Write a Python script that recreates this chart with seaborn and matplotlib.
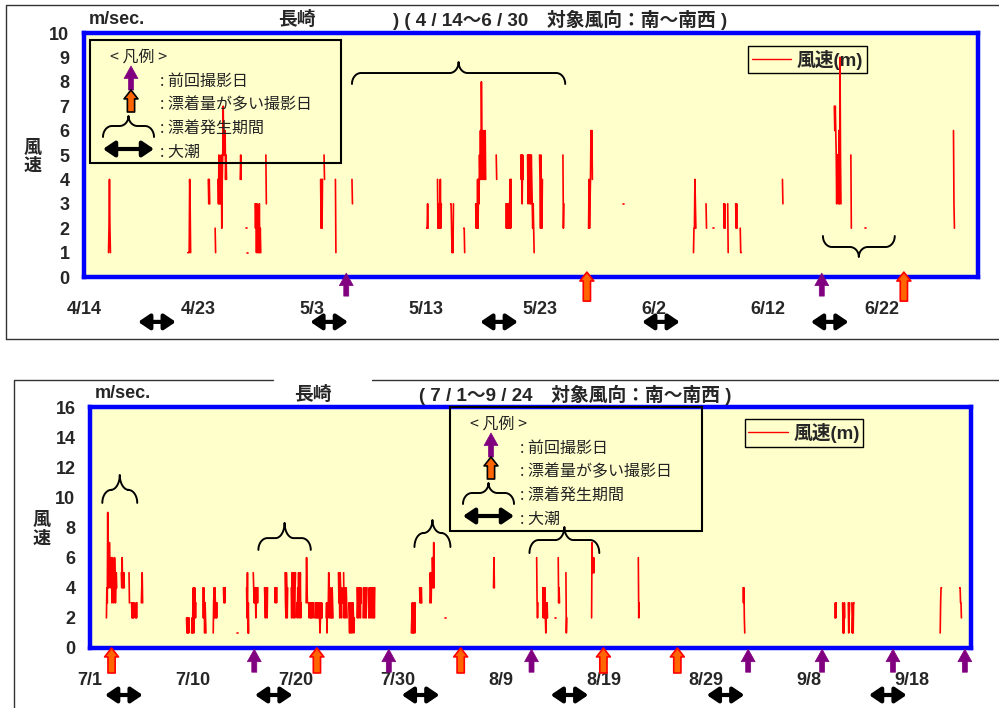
import numpy as np
import pandas as pd
import matplotlib
matplotlib.use('Agg')
import matplotlib.pyplot as plt
import seaborn as sns
from matplotlib.lines import Line2D

# --- data (day offsets from the left edge of each axis) ---
top_dates = ['4/14', '4/23', '5/3', '5/13', '5/23', '6/2', '6/12', '6/22']
bottom_dates = ['7/1', '7/10', '7/20', '7/30', '8/9', '8/19', '8/29', '9/8', '9/18']
top_span = 78.4
bottom_span = 85.8

# hourly wind speed bursts (start day, hourly values) - only S~SW hours recorded
top_wind = [
    (2.15, [1, 2, 4, 2, 1]),
    (9.1, [1, 1, 1, 1, 4, 3, 1]),
    (10.9, [4, 3, 4, 3]),
    (11.5, [2, 1]),
    (11.75, [4, 3, 5, 3, 4, 3, 4, 5, 2, 4, 5, 7, 5, 6, 5, 6, 4, 5, 4]),
    (13.7, [4, 5, 4]),
    (14.25, [2, 2]),
    (14.3, [1, 1]),
    (15.0, [3, 2, 3, 1, 3, 2, 1, 2, 1, 3, 1, 2, 1]),
    (15.95, [5, 3]),
    (20.25, [1, 1]),
    (20.75, [4, 2, 4, 2, 4]),
    (21.05, [5, 4]),
    (22.05, [4, 1]),
    (23.5, [4, 3]),
    (30.05, [2, 2, 3, 2]),
    (31.0, [4, 2, 3, 2, 3, 2, 4, 2, 3]),
    (32.15, [3, 3, 2, 1, 2, 1, 3]),
    (33.3, [2, 2, 1]),
    (34.35, [3, 2, 3, 2, 4, 2, 4, 3, 5, 4, 6, 4, 8, 6, 4, 6, 5, 4, 6, 4, 6, 4]),
    (36.15, [5, 4]),
    (37.0, [3, 2, 3, 2, 3, 2, 3, 2, 3, 4, 2, 4]),
    (38.3, [5, 4, 5, 3, 5, 4]),
    (38.9, [5, 3, 5, 4, 5, 3, 5, 4]),
    (39.1, [5, 4, 3, 5, 4, 3, 2, 3, 2, 1]),
    (39.95, [5, 4, 2, 5, 3, 2, 4]),
    (42.0, [5, 2, 3]),
    (44.1, [1, 1]),
    (44.25, [2, 4, 2, 3, 4, 6, 5, 6, 4]),
    (47.3, [3, 3]),
    (53.45, [1, 2, 2, 4, 3, 2]),
    (54.55, [3, 2]),
    (55.2, [2, 2]),
    (55.5, [2, 2]),
    (56.1, [3, 2, 3, 2]),
    (56.45, [3, 1]),
    (57.15, [3, 2, 3, 2]),
    (57.55, [2, 1, 1]),
    (61.25, [4, 3]),
    (65.8, [7, 6, 7, 6, 5, 3, 5, 4, 5, 3, 6, 3, 9, 5, 3]),
    (67.25, [5, 2]),
    (67.95, [2, 2]),
    (68.5, [2, 2]),
    (76.25, [6, 3, 2]),
]

bottom_wind = [
    (0.95, [1, 1]),
    (1.6, [2, 4, 3, 9, 4, 6, 4, 7, 5, 6, 4, 6, 5, 3, 6, 4, 5, 3, 4, 6, 5, 3, 4, 5, 4]),
    (3.05, [5, 4, 6, 4, 5, 4, 5, 4]),
    (3.8, [5, 3, 3]),
    (4.05, [3, 2, 3, 2, 3, 2, 3]),
    (4.45, [2, 3, 2, 3]),
    (5.0, [3, 4, 5, 3]),
    (9.4, [2, 1, 2, 1, 2, 1, 2]),
    (9.9, [1, 2, 1, 3, 4, 1, 2, 4, 3, 2, 3]),
    (11.0, [4, 2, 4, 3, 1, 3, 2, 1]),
    (12.0, [1, 3, 4, 2, 4, 3, 2, 3, 2, 3]),
    (13.0, [4, 3, 4, 3, 4]),
    (13.5, [4, 4]),
    (14.3, [2, 2]),
    (14.35, [1, 1]),
    (15.25, [4, 2, 5, 1, 3, 1]),
    (15.9, [5, 4, 3, 4, 3, 4, 2, 4, 3, 4, 3, 4]),
    (17.0, [4, 3, 2, 4, 3, 4, 2, 4]),
    (18.0, [4, 3, 4, 4, 3, 4]),
    (19.0, [5, 3, 2, 5, 4, 2, 4]),
    (19.6, [4, 2, 5, 3, 4, 2, 5, 3, 2, 4, 5]),
    (20.15, [3, 2, 4, 3, 5, 2, 4, 3, 5, 2, 3]),
    (21.05, [3, 6, 4, 3]),
    (21.3, [3, 2, 3, 3, 2, 3, 2, 2, 3, 3, 2, 3]),
    (21.9, [2, 3, 3, 2, 2, 3, 2, 3, 3, 2, 3, 2, 1, 2, 3, 2, 3, 2]),
    (23.0, [2, 3, 1, 3, 2, 3, 5, 3, 2, 4, 3, 2, 3, 2, 4, 3, 2]),
    (24.2, [5, 3, 4, 2, 5, 4, 3, 2, 4, 3]),
    (24.7, [5, 2, 3, 4, 2, 3, 4, 3, 2]),
    (25.2, [3, 2, 1, 3, 2, 1, 2, 3, 1, 2, 3, 2, 1, 2]),
    (26.0, [4, 2, 3, 4, 2, 3, 4, 3, 2, 4, 3]),
    (26.6, [2, 4, 3, 4, 2, 3, 4, 2, 3, 4]),
    (27.15, [2, 4, 3, 2, 4, 3, 4, 2, 3, 4, 2, 3, 4, 2, 4]),
    (31.3, [1, 2, 3, 1, 2, 1, 3, 2, 1, 3]),
    (32.1, [4, 3, 4, 3, 4, 3]),
    (33.1, [3, 5, 4, 3, 5, 4, 6, 5, 4, 7, 4]),
    (34.6, [2, 2]),
    (39.3, [4, 6, 4]),
    (43.5, [6, 3, 2, 3]),
    (44.1, [4, 2, 4, 3, 2, 4, 2, 1, 3, 2, 3, 2]),
    (45.3, [2, 2]),
    (45.6, [6, 3, 4, 3]),
    (46.35, [5, 1, 2]),
    (46.7, [2, 2]),
    (48.85, [2, 7, 5, 6, 5, 6, 5]),
    (53.4, [6, 2, 3]),
    (63.1, [2, 2]),
    (63.6, [4, 3, 4, 2, 1]),
    (72.55, [2, 3, 2, 3]),
    (73.3, [3, 1, 2, 1, 3, 2]),
    (73.85, [3, 1, 2, 3]),
    (74.2, [3, 1, 2, 1, 3, 3]),
    (82.8, [1, 3, 4, 4]),
    (84.7, [4, 4, 3, 3, 2]),
]

# event days
top_prev_shot = [23.0, 64.7]            # purple arrows
top_heavy_shot = [44.1, 71.9]           # orange arrows
top_spring_tide = [6.4, 21.5, 36.4, 50.6, 65.4]
top_periods = [(23.5, 42.2), (64.8, 71.1)]

bottom_prev_shot = [16.0, 29.1, 43.0, 64.1, 71.3, 78.2, 85.2]
bottom_heavy_shot = [2.1, 22.1, 36.1, 50.0, 57.2]
bottom_spring_tide = [3.3, 17.9, 32.2, 46.7, 61.9, 77.7]
bottom_periods = [(1.2, 4.6), (16.4, 21.5), (31.6, 35.1), (42.8, 49.6)]

key_labels = [': 前回撮影日', ': 漂着量が多い撮影日', ': 漂着発生期間', ': 大潮']

# --- style ---
sns.set_theme(style='white')
FAM = ['Liberation Sans', 'Noto Sans CJK JP']
plt.rcParams['font.family'] = FAM
plt.rcParams['font.weight'] = 'bold'
YELLOW = '#FFFFCC'
PURPLE = '#800080'
ORANGE = '#FF6600'

W, H = 999, 708
fig = plt.figure(figsize=(W / 100, H / 100), dpi=100)


def brace(axis, x0, x1, y_end, y_line, y_tip, r, transform, lw=1.4):
    xc = (x0 + x1) / 2
    t = np.linspace(0, np.pi / 2, 20)
    lx1 = x0 + r * (1 - np.cos(t))
    ly1 = y_end + (y_line - y_end) * np.sin(t)
    lx2 = xc - r + r * np.sin(t)
    ly2 = y_line + (y_tip - y_line) * (1 - np.cos(t))
    xs = np.concatenate([lx1, lx2, (2 * xc - lx2)[::-1], (2 * xc - lx1)[::-1]])
    ys = np.concatenate([ly1, ly2, ly2[::-1], ly1[::-1]])
    axis.plot(xs, ys, color='black', lw=lw, transform=transform, clip_on=False,
              solid_capstyle='round')


def purple_arrow(axis, xy, xytext, xycoords, textcoords):
    axis.annotate('', xy=xy, xycoords=xycoords, xytext=xytext, textcoords=textcoords,
                  annotation_clip=False,
                  arrowprops=dict(arrowstyle='simple,head_width=0.5,head_length=0.45,tail_width=0.18',
                                  fc=PURPLE, ec=PURPLE, lw=0.5, shrinkA=0, shrinkB=0,
                                  mutation_scale=20))


def orange_arrow(axis, xy, xytext, xycoords, textcoords, edge):
    axis.annotate('', xy=xy, xycoords=xycoords, xytext=xytext, textcoords=textcoords,
                  annotation_clip=False,
                  arrowprops=dict(arrowstyle='simple,head_width=0.5,head_length=0.32,tail_width=0.26',
                                  fc=ORANGE, ec=edge, lw=1.2, shrinkA=0, shrinkB=0,
                                  mutation_scale=20))


def double_arrow(axis, p0, p1, coords):
    axis.annotate('', xy=p1, xycoords=coords, xytext=p0, textcoords=coords,
                  annotation_clip=False,
                  arrowprops=dict(arrowstyle='<|-|>,head_length=0.34,head_width=0.23',
                                  color='black', lw=3, shrinkA=0, shrinkB=0,
                                  mutation_scale=20))


def draw_panel(rect_px, bursts, ymax, ystep, span, dates, prev, heavy, tides,
               periods, brace_levels, tide_y, prev_tip, heavy_tip, ylab_pos, leg_anchor):
    x0, y0, x1, y1 = rect_px
    ax = fig.add_axes([x0 / W, (H - y1) / H, (x1 - x0) / W, (y1 - y0) / H])
    ax.set_facecolor(YELLOW)
    ppd = (x1 - x0) / span  # pixels per day

    rows = []
    for i, (start, vals) in enumerate(bursts):
        for j, v in enumerate(vals):
            rows.append((start + j / 24, v, i))
    df = pd.DataFrame(rows, columns=['day', 'speed', 'burst'])
    sns.lineplot(data=df, x='day', y='speed', units='burst', estimator=None,
                 color='red', lw=1.2, ax=ax, legend=False)

    for s in ax.spines.values():
        s.set_color('blue')
        s.set_linewidth(3.2)
        s.set_visible(True)
    ticks = np.arange(0, int(span) + 1)
    ax.set_xticks(ticks)
    ax.set_xticklabels([dates[k // 10] if k % 10 == 0 and k // 10 < len(dates) else '' for k in ticks])
    ax.set_yticks(np.arange(0, ymax + 1, ystep))
    ax.tick_params(axis='x', direction='in', length=5, width=2.2, color='blue',
                   pad=17, labelsize=13)
    ax.tick_params(axis='y', direction='in', length=5, width=2.2, color='blue',
                   pad=10.5, labelsize=13)
    ax.set_xlabel('')
    ax.set_ylabel('風\n速', rotation=0, fontsize=13, fontweight='bold', linespacing=1.1,
                  ha='center', va='center')
    ax.yaxis.set_label_coords(*ylab_pos)

    xt = ax.get_xaxis_transform()
    for d in prev:
        purple_arrow(ax, (d, prev_tip[0]), (0, -prev_tip[1]), xt, 'offset pixels')
    for d in heavy:
        orange_arrow(ax, (d, heavy_tip[0]), (0, -heavy_tip[1]), xt, 'offset pixels', 'red')
    half = 18.8 / ppd
    for c in tides:
        double_arrow(ax, (c - half, tide_y), (c + half, tide_y), xt)
    for (a, b), (ye, yl, yt) in zip(periods, brace_levels):
        brace(ax, a, b, ye, yl, yt, 9 / ppd, xt)

    leg = ax.legend(handles=[Line2D([0], [0], color='red', lw=1)], labels=['風速(m)'],
                    loc='upper left', bbox_to_anchor=leg_anchor, borderaxespad=0,
                    frameon=True, fancybox=False, edgecolor='black', facecolor=YELLOW,
                    framealpha=1, handlelength=2.1, handletextpad=0.3, borderpad=0.2,
                    prop={'weight': 'bold', 'size': 13.5, 'family': FAM})
    leg.get_frame().set_linewidth(1)
    leg.set_zorder(1.5)

    ax.set_xlim(0, span)
    ax.set_ylim(0, ymax)
    return ax


ax_top = draw_panel((84, 33, 978, 277), top_wind, 10, 1, top_span, top_dates,
                    top_prev_shot, top_heavy_shot, top_spring_tide, top_periods,
                    [(0.791, 0.836, 0.881), (0.168, 0.123, 0.082)],
                    -0.184, (0.016, 23), (0.02, 29), (-0.057, 0.49), (0.743, 0.947))
ax_bot = draw_panel((90, 407, 971, 648), bottom_wind, 16, 2, bottom_span, bottom_dates,
                    bottom_prev_shot, bottom_heavy_shot, bottom_spring_tide, bottom_periods,
                    [(0.602, 0.656, 0.718), (0.407, 0.456, 0.519),
                     (0.419, 0.477, 0.531), (0.394, 0.448, 0.502)],
                    -0.195, (-0.005, 23), (0.0, 25), (-0.0545, 0.49), (0.743, 0.95))

# --- overlay in pixel coordinates for frames, titles and the hand-drawn key ---
ov = fig.add_axes([0, 0, 1, 1])
ov.set_xlim(0, W)
ov.set_ylim(H, 0)
ov.axis('off')
ov.patch.set_alpha(0)

frame = dict(color='#333333', lw=1.0)
ov.plot([6, 6, W + 5], [339, 5, 5], **frame)
ov.plot([6, W + 5], [339, 339], **frame)
ov.plot([14, 14, 273], [H + 5, 380, 380], **frame)
ov.plot([372, W + 5], [380, 380], **frame)

ov.text(89, 20, 'm/sec.', fontsize=13, ha='left', va='center')
ov.text(297, 20, '長崎', fontsize=13.5, ha='center', va='center')
ov.text(393, 20, ') ( 4 / 14～6 / 30　対象風向：南～南西 )', fontsize=13.5, ha='left', va='center')
ov.text(95, 394, 'm/sec.', fontsize=13, ha='left', va='center')
ov.text(313, 395, '長崎', fontsize=13.5, ha='center', va='center')
ov.text(419, 395, '( 7 / 1～9 / 24　対象風向：南～南西 )', fontsize=13.5, ha='left', va='center')


def draw_key(x0, y0, w, h):
    ov.add_patch(plt.Rectangle((x0, y0), w, h, fill=False, ec='black', lw=1.5))
    ov.text(x0 + 49, y0 + 17, '< 凡例 >', fontsize=11.5, fontweight='normal',
            family='Noto Sans CJK JP', color='#222222', ha='center', va='center')
    ax_ = x0 + 41
    purple_arrow(ov, (ax_, y0 + 26), (ax_, y0 + 50), 'data', 'data')
    orange_arrow(ov, (ax_, y0 + 50), (ax_, y0 + 72), 'data', 'data', 'black')
    brace(ov, x0 + 13, x0 + 64, y0 + 97, y0 + 86, y0 + 76, 9, ov.transData)
    double_arrow(ov, (x0 + 13, y0 + 109), (x0 + 64, y0 + 109), 'data')
    for k, lab in enumerate(key_labels):
        ov.text(x0 + 70, y0 + 41 + k * 23.7, lab, fontsize=11.5, fontweight='normal',
                family='Noto Sans CJK JP', color='#222222', ha='left', va='center')


draw_key(90, 40, 251, 123)
draw_key(450, 407, 252, 124)

fig.savefig('out.png', dpi=100)
